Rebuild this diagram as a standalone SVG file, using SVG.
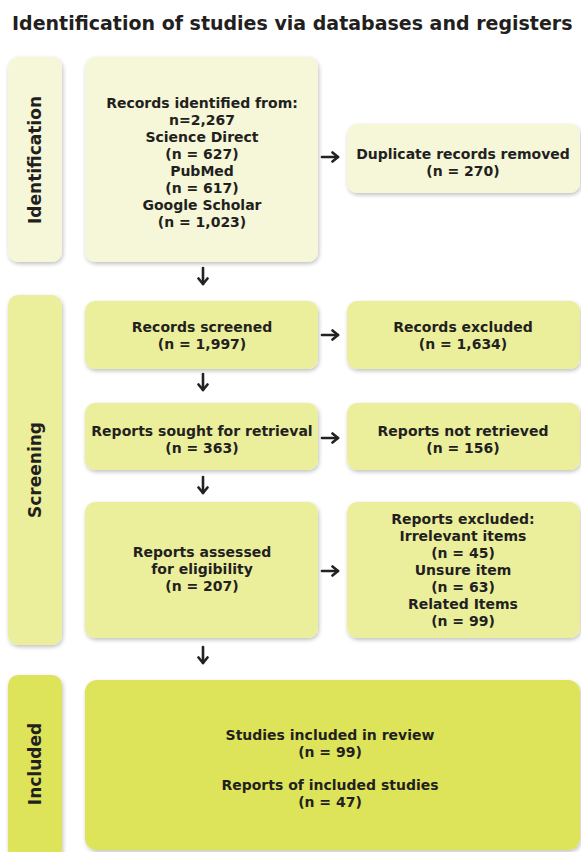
<svg xmlns="http://www.w3.org/2000/svg" width="581" height="852" viewBox="0 0 581 852">
<defs>
<filter id="sh" x="-10%" y="-10%" width="120%" height="120%">
<feGaussianBlur in="SourceAlpha" stdDeviation="2"/>
<feOffset dx="1" dy="2" result="b"/>
<feComponentTransfer><feFuncA type="linear" slope="0.25"/></feComponentTransfer>
<feMerge><feMergeNode/><feMergeNode in="SourceGraphic"/></feMerge>
</filter>
<marker id="ah" viewBox="0 0 12 12" refX="9.5" refY="6" markerWidth="12" markerHeight="12" markerUnits="userSpaceOnUse" orient="auto">
<path d="M4,1.5 L9.5,6 L4,10.5" fill="none" stroke="#222" stroke-width="2.6" stroke-linecap="round" stroke-linejoin="round"/>
</marker>
</defs>
<style>
text{font-family:"DejaVu Sans","Verdana",sans-serif;font-weight:bold;fill:#231f20;text-anchor:middle}
.t{font-size:14px}
.side{font-size:17px}
.title{font-size:19px;text-anchor:start}
.id{fill:#f5f7d8}
.sc{fill:#ebef9c}
.inc{fill:#dee45a}
.box{filter:url(#sh)}
.arr{stroke:#222;stroke-width:2.6;fill:none;marker-end:url(#ah);stroke-linecap:round}
</style>
<rect width="581" height="852" fill="#ffffff"/>
<text class="title" x="12" y="30">Identification of studies via databases and registers</text>

<g id="phase-identification">
<rect class="box id" x="8" y="57" width="54" height="205" rx="10"/>
<text class="side" transform="translate(41,160) rotate(-90)">Identification</text>
</g>
<g id="records-identified">
<rect class="box id" x="85" y="57" width="233" height="205" rx="10"/>
<text class="t" x="202" y="108">Records identified from:</text>
<text class="t" x="202" y="125">n=2,267</text>
<text class="t" x="202" y="142">Science Direct</text>
<text class="t" x="202" y="159">(n = 627)</text>
<text class="t" x="202" y="176">PubMed</text>
<text class="t" x="202" y="193">(n = 617)</text>
<text class="t" x="202" y="210">Google Scholar</text>
<text class="t" x="202" y="227">(n = 1,023)</text>
</g>
<g id="duplicates-removed">
<rect class="box id" x="347" y="124" width="233" height="69" rx="10"/>
<text class="t" x="463" y="159">Duplicate records removed</text>
<text class="t" x="463" y="176">(n = 270)</text>
</g>

<g id="phase-screening">
<rect class="box sc" x="8" y="295" width="54" height="350" rx="10"/>
<text class="side" transform="translate(41,470) rotate(-90)">Screening</text>
</g>
<g id="records-screened">
<rect class="box sc" x="85" y="301" width="233" height="68" rx="10"/>
<text class="t" x="202" y="332">Records screened</text>
<text class="t" x="202" y="349">(n = 1,997)</text>
</g>
<g id="records-excluded">
<rect class="box sc" x="347" y="301" width="233" height="68" rx="10"/>
<text class="t" x="463" y="332">Records excluded</text>
<text class="t" x="463" y="349">(n = 1,634)</text>
</g>
<g id="reports-sought">
<rect class="box sc" x="85" y="403" width="233" height="67" rx="10"/>
<text class="t" x="202" y="436">Reports sought for retrieval</text>
<text class="t" x="202" y="453">(n = 363)</text>
</g>
<g id="reports-not-retrieved">
<rect class="box sc" x="347" y="403" width="233" height="67" rx="10"/>
<text class="t" x="463" y="436">Reports not retrieved</text>
<text class="t" x="463" y="453">(n = 156)</text>
</g>
<g id="reports-assessed">
<rect class="box sc" x="85" y="502" width="233" height="136" rx="10"/>
<text class="t" x="202" y="557">Reports assessed</text>
<text class="t" x="202" y="574">for eligibility</text>
<text class="t" x="202" y="591">(n = 207)</text>
</g>
<g id="reports-excluded">
<rect class="box sc" x="347" y="502" width="233" height="136" rx="10"/>
<text class="t" x="463" y="524">Reports excluded:</text>
<text class="t" x="463" y="541">Irrelevant items</text>
<text class="t" x="463" y="558">(n = 45)</text>
<text class="t" x="463" y="575">Unsure item</text>
<text class="t" x="463" y="592">(n = 63)</text>
<text class="t" x="463" y="609">Related Items</text>
<text class="t" x="463" y="626">(n = 99)</text>
</g>

<g id="phase-included">
<rect class="box inc" x="8" y="675" width="54" height="185" rx="10"/>
<text class="side" transform="translate(41,764) rotate(-90)">Included</text>
</g>
<g id="studies-included">
<rect class="box inc" x="85" y="680" width="495" height="170" rx="12"/>
<text class="t" x="330" y="740">Studies included in review</text>
<text class="t" x="330" y="757">(n = 99)</text>
<text class="t" x="330" y="790">Reports of included studies</text>
<text class="t" x="330" y="807">(n = 47)</text>
</g>

<g id="connectors">
<line class="arr" x1="203" y1="268" x2="203" y2="284"/>
<line class="arr" x1="322" y1="157" x2="338" y2="157"/>
<line class="arr" x1="203" y1="374" x2="203" y2="390"/>
<line class="arr" x1="322" y1="335" x2="338" y2="335"/>
<line class="arr" x1="203" y1="477" x2="203" y2="493"/>
<line class="arr" x1="322" y1="438" x2="338" y2="438"/>
<line class="arr" x1="203" y1="647" x2="203" y2="663"/>
<line class="arr" x1="322" y1="571" x2="338" y2="571"/>
</g>
</svg>
